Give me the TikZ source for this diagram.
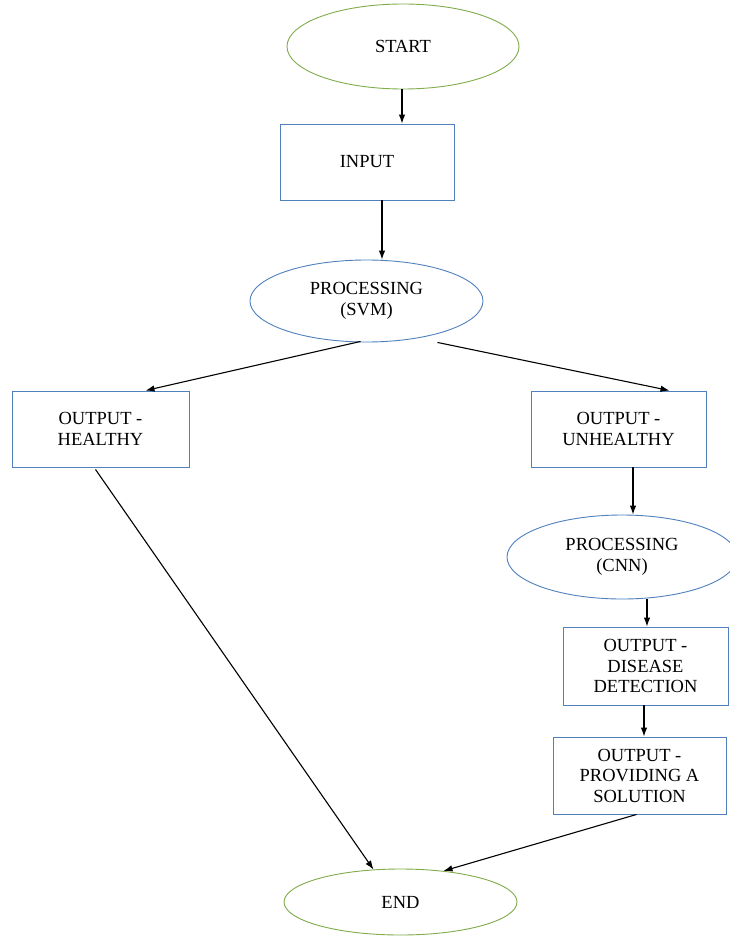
\documentclass[tikz,border=0pt]{standalone}
\usepackage{fontspec}
\setmainfont{Liberation Serif}
\usetikzlibrary{shapes.geometric,arrows.meta}
\definecolor{termgreen}{RGB}{128,172,74}
\definecolor{boxblue}{RGB}{79,129,189}
\begin{document}
\begin{tikzpicture}[x=1pt,y=-1pt,
  every node/.style={font=\fontsize{18.5}{20.5}\selectfont, align=center, inner sep=0pt},
  term/.style={ellipse, draw=termgreen, line width=0.9pt},
  proc/.style={ellipse, draw=boxblue, line width=0.9pt},
  box/.style={rectangle, draw=boxblue, line width=0.9pt},
  arr/.style={-{Latex[length=9pt,width=6.5pt]}, line width=1.1pt, black}]
\useasboundingbox (0,0) rectangle (730,936);
\fill[white] (0,0) rectangle (730,936);
\node[term, minimum width=232pt, minimum height=85pt] (start) at (403,46.5) {START};
\node[box, minimum width=174pt, minimum height=76pt] (input) at (367,162) {INPUT};
\node[proc, minimum width=233pt, minimum height=82pt] (svm) at (366.5,301) {PROCESSING\\(SVM)};
\node[box, minimum width=177pt, minimum height=76pt] (healthy) at (100.5,429) {OUTPUT -\\HEALTHY};
\node[box, minimum width=175pt, minimum height=76pt] (unhealthy) at (618.5,429) {OUTPUT -\\UNHEALTHY};
\node[proc, minimum width=230pt, minimum height=84pt] (cnn) at (622,557) {PROCESSING\\(CNN)};
\node[box, minimum width=165pt, minimum height=78pt] (disease) at (645.5,666) {OUTPUT -\\DISEASE\\DETECTION};
\node[box, minimum width=173pt, minimum height=77pt] (solution) at (639.5,775.5) {OUTPUT -\\PROVIDING A\\SOLUTION};
\node[term, minimum width=233pt, minimum height=66pt] (end) at (400.5,902) {END};

\draw[arr] ([shift={(-1,0)}]start.south) -- ([shift={(-1,0)}]start.south |- input.north);
\draw[arr] ([shift={(15,0)}]input.south) -- ([shift={(15,0)}]input.south |- svm.north);
\draw[arr] ([shift={(-6,-1)}]svm.south) -- ([shift={(45,0)}]healthy.north);
\draw[arr] ([shift={(71,0)}]svm.south) -- ([shift={(51,0)}]unhealthy.north);
\draw[arr] ([shift={(14.5,0)}]unhealthy.south) -- ([shift={(14.5,0)}]unhealthy.south |- cnn.north);
\draw[arr] ([shift={(25,0)}]cnn.south) -- ([shift={(25,0)}]cnn.south |- disease.north);
\draw[arr] ([shift={(-1.5,0)}]disease.south) -- ([shift={(-1.5,0)}]disease.south |- solution.north);
\draw[arr] ([shift={(-5,2)}]healthy.south) -- ([shift={(-27,1)}]end.north);
\draw[arr] ([shift={(-3,0)}]solution.south) -- ([shift={(43,2.4)}]end.north);
\end{tikzpicture}
\end{document}
